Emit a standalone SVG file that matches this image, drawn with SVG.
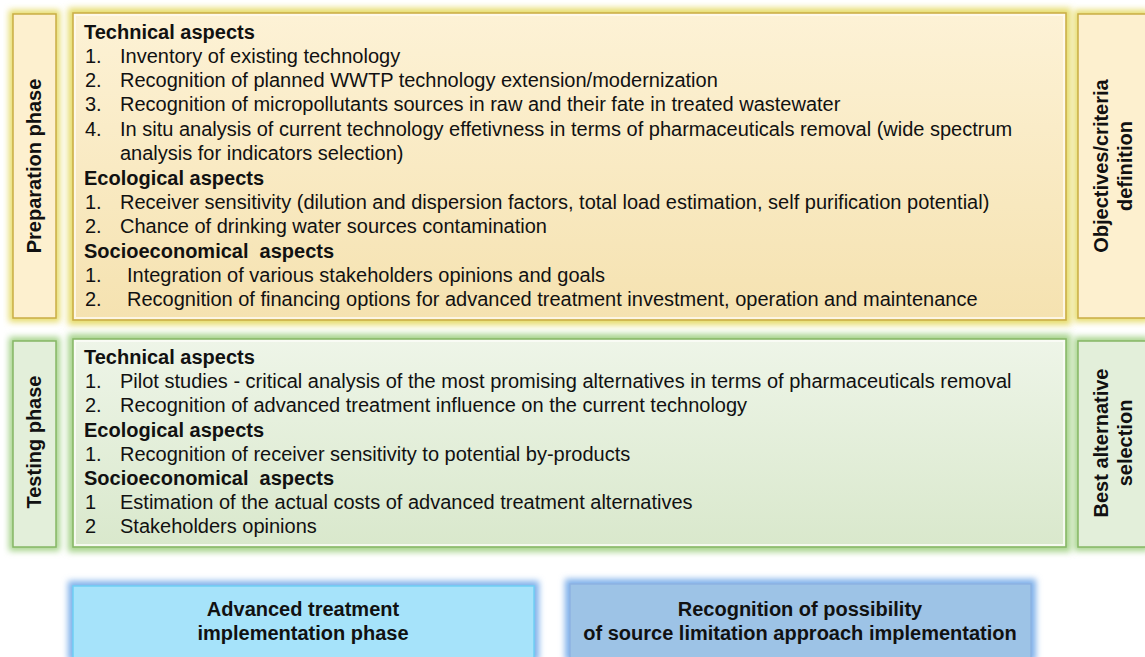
<svg xmlns="http://www.w3.org/2000/svg" width="1145" height="657" viewBox="0 0 1145 657">
<defs>
<filter id="glow" x="-10%" y="-10%" width="120%" height="120%"><feGaussianBlur stdDeviation="3"/></filter>
<linearGradient id="gy" x1="0" y1="0" x2="0" y2="1"><stop offset="0" stop-color="#fdf2d6"/><stop offset="1" stop-color="#f5e2b0"/></linearGradient>
<linearGradient id="gg" x1="0" y1="0" x2="0" y2="1"><stop offset="0" stop-color="#eef5e8"/><stop offset="1" stop-color="#d9e8cc"/></linearGradient>
</defs>
<style>
text{font-family:"Liberation Sans",Arial,sans-serif;fill:#111}
.t{font-size:20px}
.b{font-size:20px;font-weight:bold}
.v{font-size:20px;font-weight:bold;text-anchor:middle}
.c{font-size:20px;font-weight:bold;text-anchor:middle}
.gy{fill:#e6dc6a;filter:url(#glow)}
.gg{fill:#a6d38a;filter:url(#glow)}
.gb{fill:#7fb0ea;filter:url(#glow)}
.sy{fill:#fdf0cf;stroke:#c9ad45;stroke-width:1.5}
.sg{fill:#e3efda;stroke:#86b765;stroke-width:1.5}
</style>
<rect width="1145" height="657" fill="#ffffff"/>

<g id="prep-phase">
<rect class="gy" x="9" y="10" width="51" height="312"/>
<rect class="sy" x="13" y="14" width="43" height="304"/>
<text class="v" transform="translate(41,166) rotate(-90)">Preparation phase</text>
</g>

<g id="prep-content">
<rect class="gy" x="68" y="8" width="1003" height="317"/>
<rect x="73" y="13" width="993" height="307" fill="url(#gy)" stroke="#c9ad45" stroke-width="1.5"/>
<rect x="75" y="15" width="989" height="303" fill="none" stroke="#fffaf0" stroke-width="2" opacity="0.8"/>
<text class="b" x="84" y="39">Technical aspects</text>
<text class="t" x="85" y="63">1.</text><text class="t" x="120" y="63">Inventory of existing technology</text>
<text class="t" x="85" y="87">2.</text><text class="t" x="120" y="87">Recognition of planned WWTP technology extension/modernization</text>
<text class="t" x="85" y="111">3.</text><text class="t" x="120" y="111">Recognition of micropollutants sources in raw and their fate in treated wastewater</text>
<text class="t" x="85" y="136">4.</text><text class="t" x="120" y="136">In situ analysis of current technology effetivness in terms of pharmaceuticals removal (wide spectrum</text>
<text class="t" x="120" y="160">analysis for indicators selection)</text>
<text class="b" x="84" y="185">Ecological aspects</text>
<text class="t" x="85" y="209">1.</text><text class="t" x="120" y="209">Receiver sensitivity (dilution and dispersion factors, total load estimation, self purification potential)</text>
<text class="t" x="85" y="233">2.</text><text class="t" x="120" y="233">Chance of drinking water sources contamination</text>
<text class="b" x="84" y="258" xml:space="preserve">Socioeconomical  aspects</text>
<text class="t" x="85" y="282">1.</text><text class="t" x="127" y="282">Integration of various stakeholders opinions and goals</text>
<text class="t" x="85" y="306">2.</text><text class="t" x="127" y="306">Recognition of financing options for advanced treatment investment, operation and maintenance</text>
</g>

<g id="objectives">
<rect class="gy" x="1074" y="10" width="75" height="312"/>
<rect class="sy" x="1078" y="14" width="72" height="304"/>
<text class="v" transform="translate(1108,166) rotate(-90)">Objectives/criteria</text>
<text class="v" transform="translate(1132,166) rotate(-90)">definition</text>
</g>

<g id="test-phase">
<rect class="gg" x="9" y="337" width="51" height="214"/>
<rect class="sg" x="13" y="341" width="43" height="206"/>
<text class="v" transform="translate(41,442) rotate(-90)">Testing phase</text>
</g>

<g id="test-content">
<rect class="gg" x="68" y="334" width="1003" height="218"/>
<rect x="73" y="339" width="993" height="208" fill="url(#gg)" stroke="#86b765" stroke-width="1.5"/>
<rect x="75" y="341" width="989" height="204" fill="none" stroke="#fbfdf8" stroke-width="2" opacity="0.8"/>
<text class="b" x="84" y="364">Technical aspects</text>
<text class="t" x="85" y="388">1.</text><text class="t" x="120" y="388">Pilot studies - critical analysis of the most promising alternatives in terms of pharmaceuticals removal</text>
<text class="t" x="85" y="412">2.</text><text class="t" x="120" y="412">Recognition of advanced treatment influence on the current technology</text>
<text class="b" x="84" y="437">Ecological aspects</text>
<text class="t" x="85" y="461">1.</text><text class="t" x="120" y="461">Recognition of receiver sensitivity to potential by-products</text>
<text class="b" x="84" y="485" xml:space="preserve">Socioeconomical  aspects</text>
<text class="t" x="85" y="509">1</text><text class="t" x="120" y="509">Estimation of the actual costs of advanced treatment alternatives</text>
<text class="t" x="85" y="533">2</text><text class="t" x="120" y="533">Stakeholders opinions</text>
</g>

<g id="best-alternative">
<rect class="gg" x="1074" y="337" width="75" height="214"/>
<rect class="sg" x="1078" y="341" width="72" height="206"/>
<text class="v" transform="translate(1108,443) rotate(-90)">Best alternative</text>
<text class="v" transform="translate(1132,443) rotate(-90)">selection</text>
</g>

<g id="advanced-treatment">
<rect class="gb" x="68" y="581" width="471" height="80"/>
<rect x="73" y="586" width="461" height="75" fill="#a6e3fa" stroke="#6fcff5" stroke-width="1.5"/>
<text class="c" x="303" y="616">Advanced treatment</text>
<text class="c" x="303" y="640">implementation phase</text>
</g>

<g id="source-limitation">
<rect class="gb" x="565" y="579" width="471" height="82"/>
<rect x="570" y="584" width="461" height="77" fill="#9dc3e6" stroke="#8db3e2" stroke-width="1.5"/>
<text class="c" x="800" y="616">Recognition of possibility</text>
<text class="c" x="800" y="640">of source limitation approach implementation</text>
</g>

<g id="connectors"></g>
</svg>
